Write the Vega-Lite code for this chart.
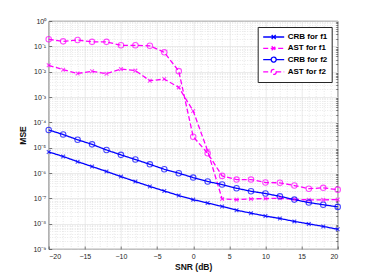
{
  "$schema": "https://vega.github.io/schema/vega-lite/v6.json",
  "autosize": {"type": "none"},
  "width": 289,
  "height": 228,
  "padding": {"left": 48.7, "top": 21, "right": 36.3, "bottom": 31},
  "background": "white",
  "config": {
    "font": "Liberation Sans",
    "view": {"stroke": "#262626", "strokeWidth": 0.8},
    "axis": {
      "labelFont": "Liberation Sans",
      "labelFontSize": 7,
      "labelColor": "#262626",
      "titleFont": "Liberation Sans",
      "titleFontSize": 8.5,
      "titleFontWeight": "bold",
      "titleColor": "#111111",
      "domain": false,
      "tickColor": "#262626",
      "tickWidth": 0.6
    }
  },
  "data": {
    "values": [
      {"snr": -20, "series": "CRB for f1", "mse": 6.8e-6},
      {"snr": -18, "series": "CRB for f1", "mse": 4.5e-6},
      {"snr": -16, "series": "CRB for f1", "mse": 2.8e-6},
      {"snr": -14, "series": "CRB for f1", "mse": 1.8e-6},
      {"snr": -12, "series": "CRB for f1", "mse": 1.15e-6},
      {"snr": -10, "series": "CRB for f1", "mse": 7.2e-7},
      {"snr": -8, "series": "CRB for f1", "mse": 4.6e-7},
      {"snr": -6, "series": "CRB for f1", "mse": 2.95e-7},
      {"snr": -4, "series": "CRB for f1", "mse": 1.95e-7},
      {"snr": -2, "series": "CRB for f1", "mse": 1.29e-7},
      {"snr": 0, "series": "CRB for f1", "mse": 8.9e-8},
      {"snr": 2, "series": "CRB for f1", "mse": 6.5e-8},
      {"snr": 4, "series": "CRB for f1", "mse": 4.8e-8},
      {"snr": 6, "series": "CRB for f1", "mse": 3.4e-8},
      {"snr": 8, "series": "CRB for f1", "mse": 2.6e-8},
      {"snr": 10, "series": "CRB for f1", "mse": 2.0e-8},
      {"snr": 12, "series": "CRB for f1", "mse": 1.6e-8},
      {"snr": 14, "series": "CRB for f1", "mse": 1.23e-8},
      {"snr": 16, "series": "CRB for f1", "mse": 9.8e-9},
      {"snr": 18, "series": "CRB for f1", "mse": 7.8e-9},
      {"snr": 20, "series": "CRB for f1", "mse": 6.0e-9},
      {"snr": -20, "series": "AST for f1", "mse": 0.0178},
      {"snr": -18, "series": "AST for f1", "mse": 0.012},
      {"snr": -16, "series": "AST for f1", "mse": 0.0085},
      {"snr": -14, "series": "AST for f1", "mse": 0.0103},
      {"snr": -12, "series": "AST for f1", "mse": 0.0083},
      {"snr": -10, "series": "AST for f1", "mse": 0.0126},
      {"snr": -8, "series": "AST for f1", "mse": 0.011},
      {"snr": -6, "series": "AST for f1", "mse": 0.0044},
      {"snr": -4, "series": "AST for f1", "mse": 0.0051},
      {"snr": -2, "series": "AST for f1", "mse": 0.0024},
      {"snr": 0, "series": "AST for f1", "mse": 2.8e-4},
      {"snr": 2, "series": "AST for f1", "mse": 7.5e-6},
      {"snr": 4, "series": "AST for f1", "mse": 9.5e-8},
      {"snr": 6, "series": "AST for f1", "mse": 8.9e-8},
      {"snr": 8, "series": "AST for f1", "mse": 9.5e-8},
      {"snr": 10, "series": "AST for f1", "mse": 9.8e-8},
      {"snr": 12, "series": "AST for f1", "mse": 1.0e-7},
      {"snr": 14, "series": "AST for f1", "mse": 9.2e-8},
      {"snr": 16, "series": "AST for f1", "mse": 8.7e-8},
      {"snr": 18, "series": "AST for f1", "mse": 8.7e-8},
      {"snr": 20, "series": "AST for f1", "mse": 8.9e-8},
      {"snr": -20, "series": "CRB for f2", "mse": 5.0e-5},
      {"snr": -18, "series": "CRB for f2", "mse": 3.3e-5},
      {"snr": -16, "series": "CRB for f2", "mse": 2.05e-5},
      {"snr": -14, "series": "CRB for f2", "mse": 1.35e-5},
      {"snr": -12, "series": "CRB for f2", "mse": 8.1e-6},
      {"snr": -10, "series": "CRB for f2", "mse": 5.2e-6},
      {"snr": -8, "series": "CRB for f2", "mse": 3.4e-6},
      {"snr": -6, "series": "CRB for f2", "mse": 2.2e-6},
      {"snr": -4, "series": "CRB for f2", "mse": 1.4e-6},
      {"snr": -2, "series": "CRB for f2", "mse": 9.8e-7},
      {"snr": 0, "series": "CRB for f2", "mse": 6.6e-7},
      {"snr": 2, "series": "CRB for f2", "mse": 4.6e-7},
      {"snr": 4, "series": "CRB for f2", "mse": 3.5e-7},
      {"snr": 6, "series": "CRB for f2", "mse": 2.5e-7},
      {"snr": 8, "series": "CRB for f2", "mse": 1.9e-7},
      {"snr": 10, "series": "CRB for f2", "mse": 1.55e-7},
      {"snr": 12, "series": "CRB for f2", "mse": 1.2e-7},
      {"snr": 14, "series": "CRB for f2", "mse": 8.9e-8},
      {"snr": 16, "series": "CRB for f2", "mse": 6.8e-8},
      {"snr": 18, "series": "CRB for f2", "mse": 5.6e-8},
      {"snr": 20, "series": "CRB for f2", "mse": 4.6e-8},
      {"snr": -20, "series": "AST for f2", "mse": 0.19},
      {"snr": -18, "series": "AST for f2", "mse": 0.157},
      {"snr": -16, "series": "AST for f2", "mse": 0.178},
      {"snr": -14, "series": "AST for f2", "mse": 0.15},
      {"snr": -12, "series": "AST for f2", "mse": 0.15},
      {"snr": -10, "series": "AST for f2", "mse": 0.11},
      {"snr": -8, "series": "AST for f2", "mse": 0.11},
      {"snr": -6, "series": "AST for f2", "mse": 0.105},
      {"snr": -4, "series": "AST for f2", "mse": 0.058},
      {"snr": -2, "series": "AST for f2", "mse": 0.0105},
      {"snr": 0, "series": "AST for f2", "mse": 2.7e-5},
      {"snr": 2, "series": "AST for f2", "mse": 6.0e-6},
      {"snr": 4, "series": "AST for f2", "mse": 7.7e-7},
      {"snr": 6, "series": "AST for f2", "mse": 5.5e-7},
      {"snr": 8, "series": "AST for f2", "mse": 5.5e-7},
      {"snr": 10, "series": "AST for f2", "mse": 4.2e-7},
      {"snr": 12, "series": "AST for f2", "mse": 4.1e-7},
      {"snr": 14, "series": "AST for f2", "mse": 3.2e-7},
      {"snr": 16, "series": "AST for f2", "mse": 2.4e-7},
      {"snr": 18, "series": "AST for f2", "mse": 2.6e-7},
      {"snr": 20, "series": "AST for f2", "mse": 2.2e-7}
    ]
  },
  "resolve": {"axis": {"x": "independent", "y": "independent"}},
  "layer": [
    {
      "mark": {"type": "point", "opacity": 0},
      "encoding": {
        "x": {
          "field": "snr", "type": "quantitative",
          "scale": {"domain": [-20, 20], "nice": false, "zero": false},
          "axis": {
            "orient": "top", "title": null, "labels": false, "ticks": false,
            "values": [-19,-18,-17,-16,-14,-13,-12,-11,-9,-8,-7,-6,-4,-3,-2,-1,1,2,3,4,6,7,8,9,11,12,13,14,16,17,18,19],
            "grid": true, "gridColor": "#d9d9d9", "gridDash": [1, 1.5], "gridWidth": 0.6
          }
        },
        "y": {
          "field": "mse", "type": "quantitative",
          "scale": {"type": "log", "domain": [1e-9, 1], "nice": false},
          "axis": {
            "orient": "right", "title": null, "labels": false, "ticks": true, "tickSize": -2,
            "values": [2e-9,3e-9,4e-9,5e-9,6e-9,7e-9,8e-9,9e-9,2e-8,3e-8,4e-8,5e-8,6e-8,7e-8,8e-8,9e-8,2e-7,3e-7,4e-7,5e-7,6e-7,7e-7,8e-7,9e-7,2e-6,3e-6,4e-6,5e-6,6e-6,7e-6,8e-6,9e-6,2e-5,3e-5,4e-5,5e-5,6e-5,7e-5,8e-5,9e-5,2e-4,3e-4,4e-4,5e-4,6e-4,7e-4,8e-4,9e-4,2e-3,3e-3,4e-3,5e-3,6e-3,7e-3,8e-3,9e-3,2e-2,3e-2,4e-2,5e-2,6e-2,7e-2,8e-2,9e-2,2e-1,3e-1,4e-1,5e-1,6e-1,7e-1,8e-1,9e-1],
            "grid": true, "gridColor": "#d9d9d9", "gridDash": [1, 1.5], "gridWidth": 0.6
          }
        }
      }
    },
    {
      "mark": {"type": "line", "strokeWidth": 1.3},
      "encoding": {
        "x": {
          "field": "snr", "type": "quantitative",
          "scale": {"domain": [-20, 20], "nice": false, "zero": false},
          "axis": {
            "orient": "bottom", "title": "SNR (dB)", "values": [-20, -15, -10, -5, 0, 5, 10, 15, 20],
            "grid": true, "gridColor": "#e3e3e3", "gridWidth": 0.7,
            "ticks": true, "tickSize": -3,
            "labelPadding": 6, "titlePadding": 3
          }
        },
        "y": {
          "field": "mse", "type": "quantitative",
          "scale": {"type": "log", "domain": [1e-9, 1], "nice": false},
          "axis": {
            "orient": "left", "title": "MSE",
            "values": [1e-9, 1e-8, 1e-7, 1e-6, 1e-5, 1e-4, 1e-3, 1e-2, 1e-1, 1],
            "labelExpr": "['10⁰','10⁻¹','10⁻²','10⁻³','10⁻⁴','10⁻⁵','10⁻⁶','10⁻⁷','10⁻⁸','10⁻⁹'][round(-log(datum.value)/LN10)]",
            "grid": true, "gridColor": "#e3e3e3", "gridWidth": 0.7,
            "ticks": true, "tickSize": -3,
            "labelPadding": 6, "titlePadding": 5
          }
        },
        "color": {
          "field": "series", "type": "nominal",
          "scale": {"domain": ["CRB for f1", "AST for f1", "CRB for f2", "AST for f2"], "range": ["#0000ff", "#ff00ff", "#0000ff", "#ff00ff"]},
          "legend": {
            "title": null, "orient": "none", "legendX": 209, "legendY": 6,
            "padding": 4, "strokeColor": "#262626", "fillColor": "white",
            "labelFont": "Liberation Sans", "labelFontSize": 8, "labelFontWeight": "bold", "labelColor": "#000000",
            "symbolSize": 100, "symbolStrokeWidth": 1.3, "symbolOffset": 6, "labelOffset": 8, "rowPadding": 0.3,
            "symbolType": "stroke",
            "encode": {
              "symbols": {
                "update": {
                  "shape": {"signal": "indexof(datum.label, 'f1') >= 0 ? 'M-2.1,0L2.1,0M-0.4,-0.4L0.4,0.4M-0.4,0.4L0.4,-0.4' : 'M-2.1,0L-0.5,0A0.5,0.5 0 1 1 0.5,0A0.5,0.5 0 1 1 -0.5,0M0.5,0L2.1,0'"},
                  "strokeDash": {"signal": "indexof(datum.label, 'AST') >= 0 ? [4, 2] : [1, 0]"},
                  "size": {"value": 100},
                  "fill": {"value": "transparent"}
                }
              }
            }
          }
        },
        "strokeDash": {
          "field": "series", "type": "nominal",
          "scale": {"domain": ["CRB for f1", "AST for f1", "CRB for f2", "AST for f2"], "range": [[1, 0], [5, 2.5], [1, 0], [5, 2.5]]},
          "legend": null
        }
      }
    },
    {
      "transform": [{"filter": "indexof(datum.series, 'f1') >= 0"}],
      "mark": {"type": "point", "filled": false, "strokeWidth": 1.1, "shape": "M-1,-1L1,1M-1,1L1,-1", "size": 14},
      "encoding": {
        "x": {"field": "snr", "type": "quantitative", "scale": {"domain": [-20, 20], "nice": false, "zero": false}, "axis": null},
        "y": {"field": "mse", "type": "quantitative", "scale": {"type": "log", "domain": [1e-9, 1], "nice": false}, "axis": null},
        "color": {"field": "series", "type": "nominal", "legend": null}
      }
    },
    {
      "transform": [{"filter": "indexof(datum.series, 'f2') >= 0"}],
      "mark": {"type": "point", "filled": false, "strokeWidth": 1.1, "shape": "circle", "size": 30},
      "encoding": {
        "x": {"field": "snr", "type": "quantitative", "scale": {"domain": [-20, 20], "nice": false, "zero": false}, "axis": null},
        "y": {"field": "mse", "type": "quantitative", "scale": {"type": "log", "domain": [1e-9, 1], "nice": false}, "axis": null},
        "color": {"field": "series", "type": "nominal", "legend": null}
      }
    }
  ]
}
